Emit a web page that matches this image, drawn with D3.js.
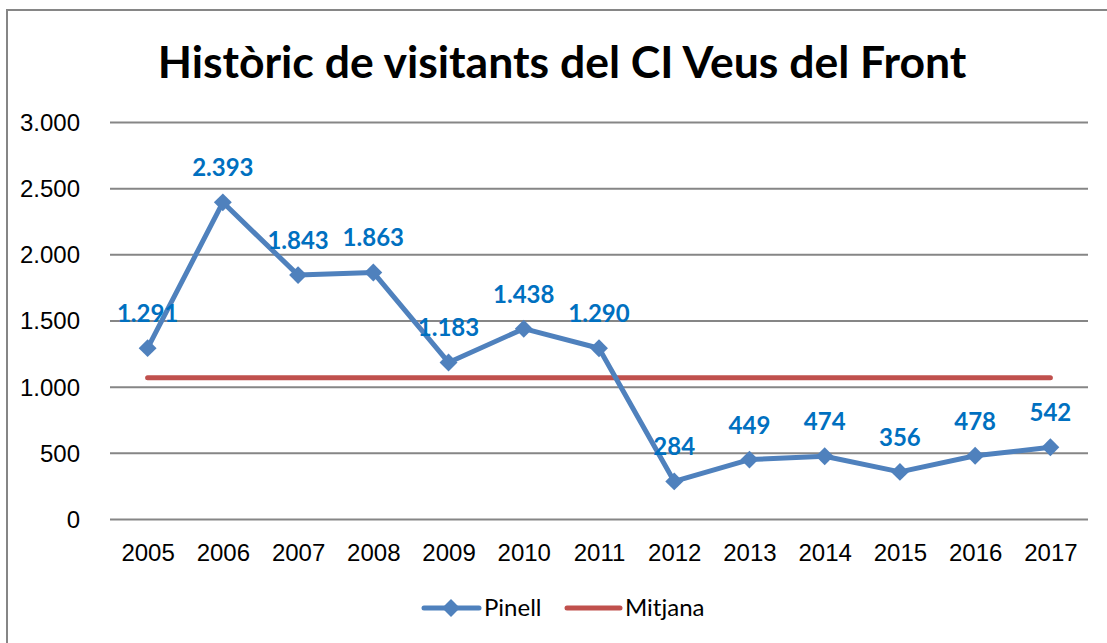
<!DOCTYPE html>
<html lang="ca">
<head>
<meta charset="UTF-8" />
<script src="https://d3js.org/d3.v7.min.js"></script>
<title>Històric de visitants</title>
<style>
  body { margin: 0; background: #fff; }
  svg { font-family: Lato, "Open Sans", sans-serif; }
  .grid line { stroke: #868686; stroke-width: 2; }
  .grid path { display: none; }
  .axis text { font-size: 24px; fill: #000; }
  .axis path, .axis line { display: none; }
</style>
</head>
<body>
<script>
var years = ["2005","2006","2007","2008","2009","2010","2011","2012","2013","2014","2015","2016","2017"];
var pinell = [1291, 2393, 1843, 1863, 1183, 1438, 1290, 284, 449, 474, 356, 478, 542];
var mitjana = [1068, 1068, 1068, 1068, 1068, 1068, 1068, 1068, 1068, 1068, 1068, 1068, 1068];
var yTicks = [0, 500, 1000, 1500, 2000, 2500, 3000];

var width = 1107, height = 643;
var margin = {left: 110, right: 19, top: 122, bottom: 124};

var svg = d3.select("body").append("svg")
  .attr("width", width).attr("height", height);

// frame of the chart area
svg.append("rect")
  .attr("x", 7).attr("y", 10)
  .attr("width", 1120).attr("height", 660)
  .attr("fill", "#fff").attr("stroke", "#868686").attr("stroke-width", 2);

var x = d3.scalePoint().domain(years)
  .range([margin.left, width - margin.right]).padding(0.5);
var y = d3.scaleLinear().domain([0, 3000])
  .range([height - margin.bottom, margin.top]);

var fmt = d3.formatLocale({decimal: ",", thousands: ".", grouping: [3], currency: ["", "€"]}).format(",d");

svg.append("g").attr("class", "grid")
  .attr("transform", "translate(" + margin.left + ",0)")
  .call(d3.axisLeft(y).tickValues(yTicks).tickSize(-(width - margin.left - margin.right)).tickFormat(""));

svg.append("g").attr("class", "axis")
  .attr("transform", "translate(" + (margin.left - 27) + ",0)")
  .call(d3.axisLeft(y).tickValues(yTicks).tickSize(0).tickFormat(fmt))
  .selectAll("text").attr("dy", "0.35em");

svg.append("g").attr("class", "axis")
  .attr("transform", "translate(0," + (height - margin.bottom + 22) + ")")
  .call(d3.axisBottom(x).tickSize(0))
  .selectAll("text").attr("dy", "0.7em");

// title
svg.append("text")
  .attr("x", 562).attr("y", 78)
  .attr("text-anchor", "middle")
  .attr("font-size", 44.5).attr("font-weight", "bold")
  .text("Històric de visitants del CI Veus del Front");

// mean line
var line = d3.line().x(function(d, i){ return x(years[i]); }).y(function(d){ return y(d); });
svg.append("path").datum(mitjana)
  .attr("d", line).attr("fill", "none")
  .attr("stroke", "#C0504D").attr("stroke-width", 5).attr("stroke-linecap", "round");

// visitors line
svg.append("path").datum(pinell)
  .attr("d", line).attr("fill", "none")
  .attr("stroke", "#4F81BD").attr("stroke-width", 5).attr("stroke-linejoin", "round");

var diamond = d3.symbol().type(d3.symbolSquare).size(160);
svg.selectAll(".pt").data(pinell).enter().append("path")
  .attr("class", "pt")
  .attr("d", diamond)
  .attr("transform", function(d, i){ return "translate(" + x(years[i]) + "," + y(d) + ") rotate(45)"; })
  .attr("fill", "#4F81BD");

svg.selectAll(".lbl").data(pinell).enter().append("text")
  .attr("class", "lbl")
  .attr("x", function(d, i){ return x(years[i]); })
  .attr("y", function(d){ return y(d) - 26; })
  .attr("text-anchor", "middle")
  .attr("font-size", 24).attr("font-weight", "bold")
  .attr("fill", "#0070C0")
  .text(function(d){ return fmt(d); });

// legend
var lg = svg.append("g").attr("transform", "translate(0,608)");
lg.append("line").attr("x1", 424).attr("x2", 479).attr("y1", 0).attr("y2", 0)
  .attr("stroke", "#4F81BD").attr("stroke-width", 5).attr("stroke-linecap", "round");
lg.append("path").attr("d", diamond).attr("transform", "translate(451,0) rotate(45)").attr("fill", "#4F81BD");
lg.append("text").attr("x", 484).attr("y", 0).attr("dy", "0.35em").attr("font-size", 24).text("Pinell");
lg.append("line").attr("x1", 567).attr("x2", 620).attr("y1", 0).attr("y2", 0)
  .attr("stroke", "#C0504D").attr("stroke-width", 5).attr("stroke-linecap", "round");
lg.append("text").attr("x", 625).attr("y", 0).attr("dy", "0.35em").attr("font-size", 24).text("Mitjana");
</script>
</body>
</html>
